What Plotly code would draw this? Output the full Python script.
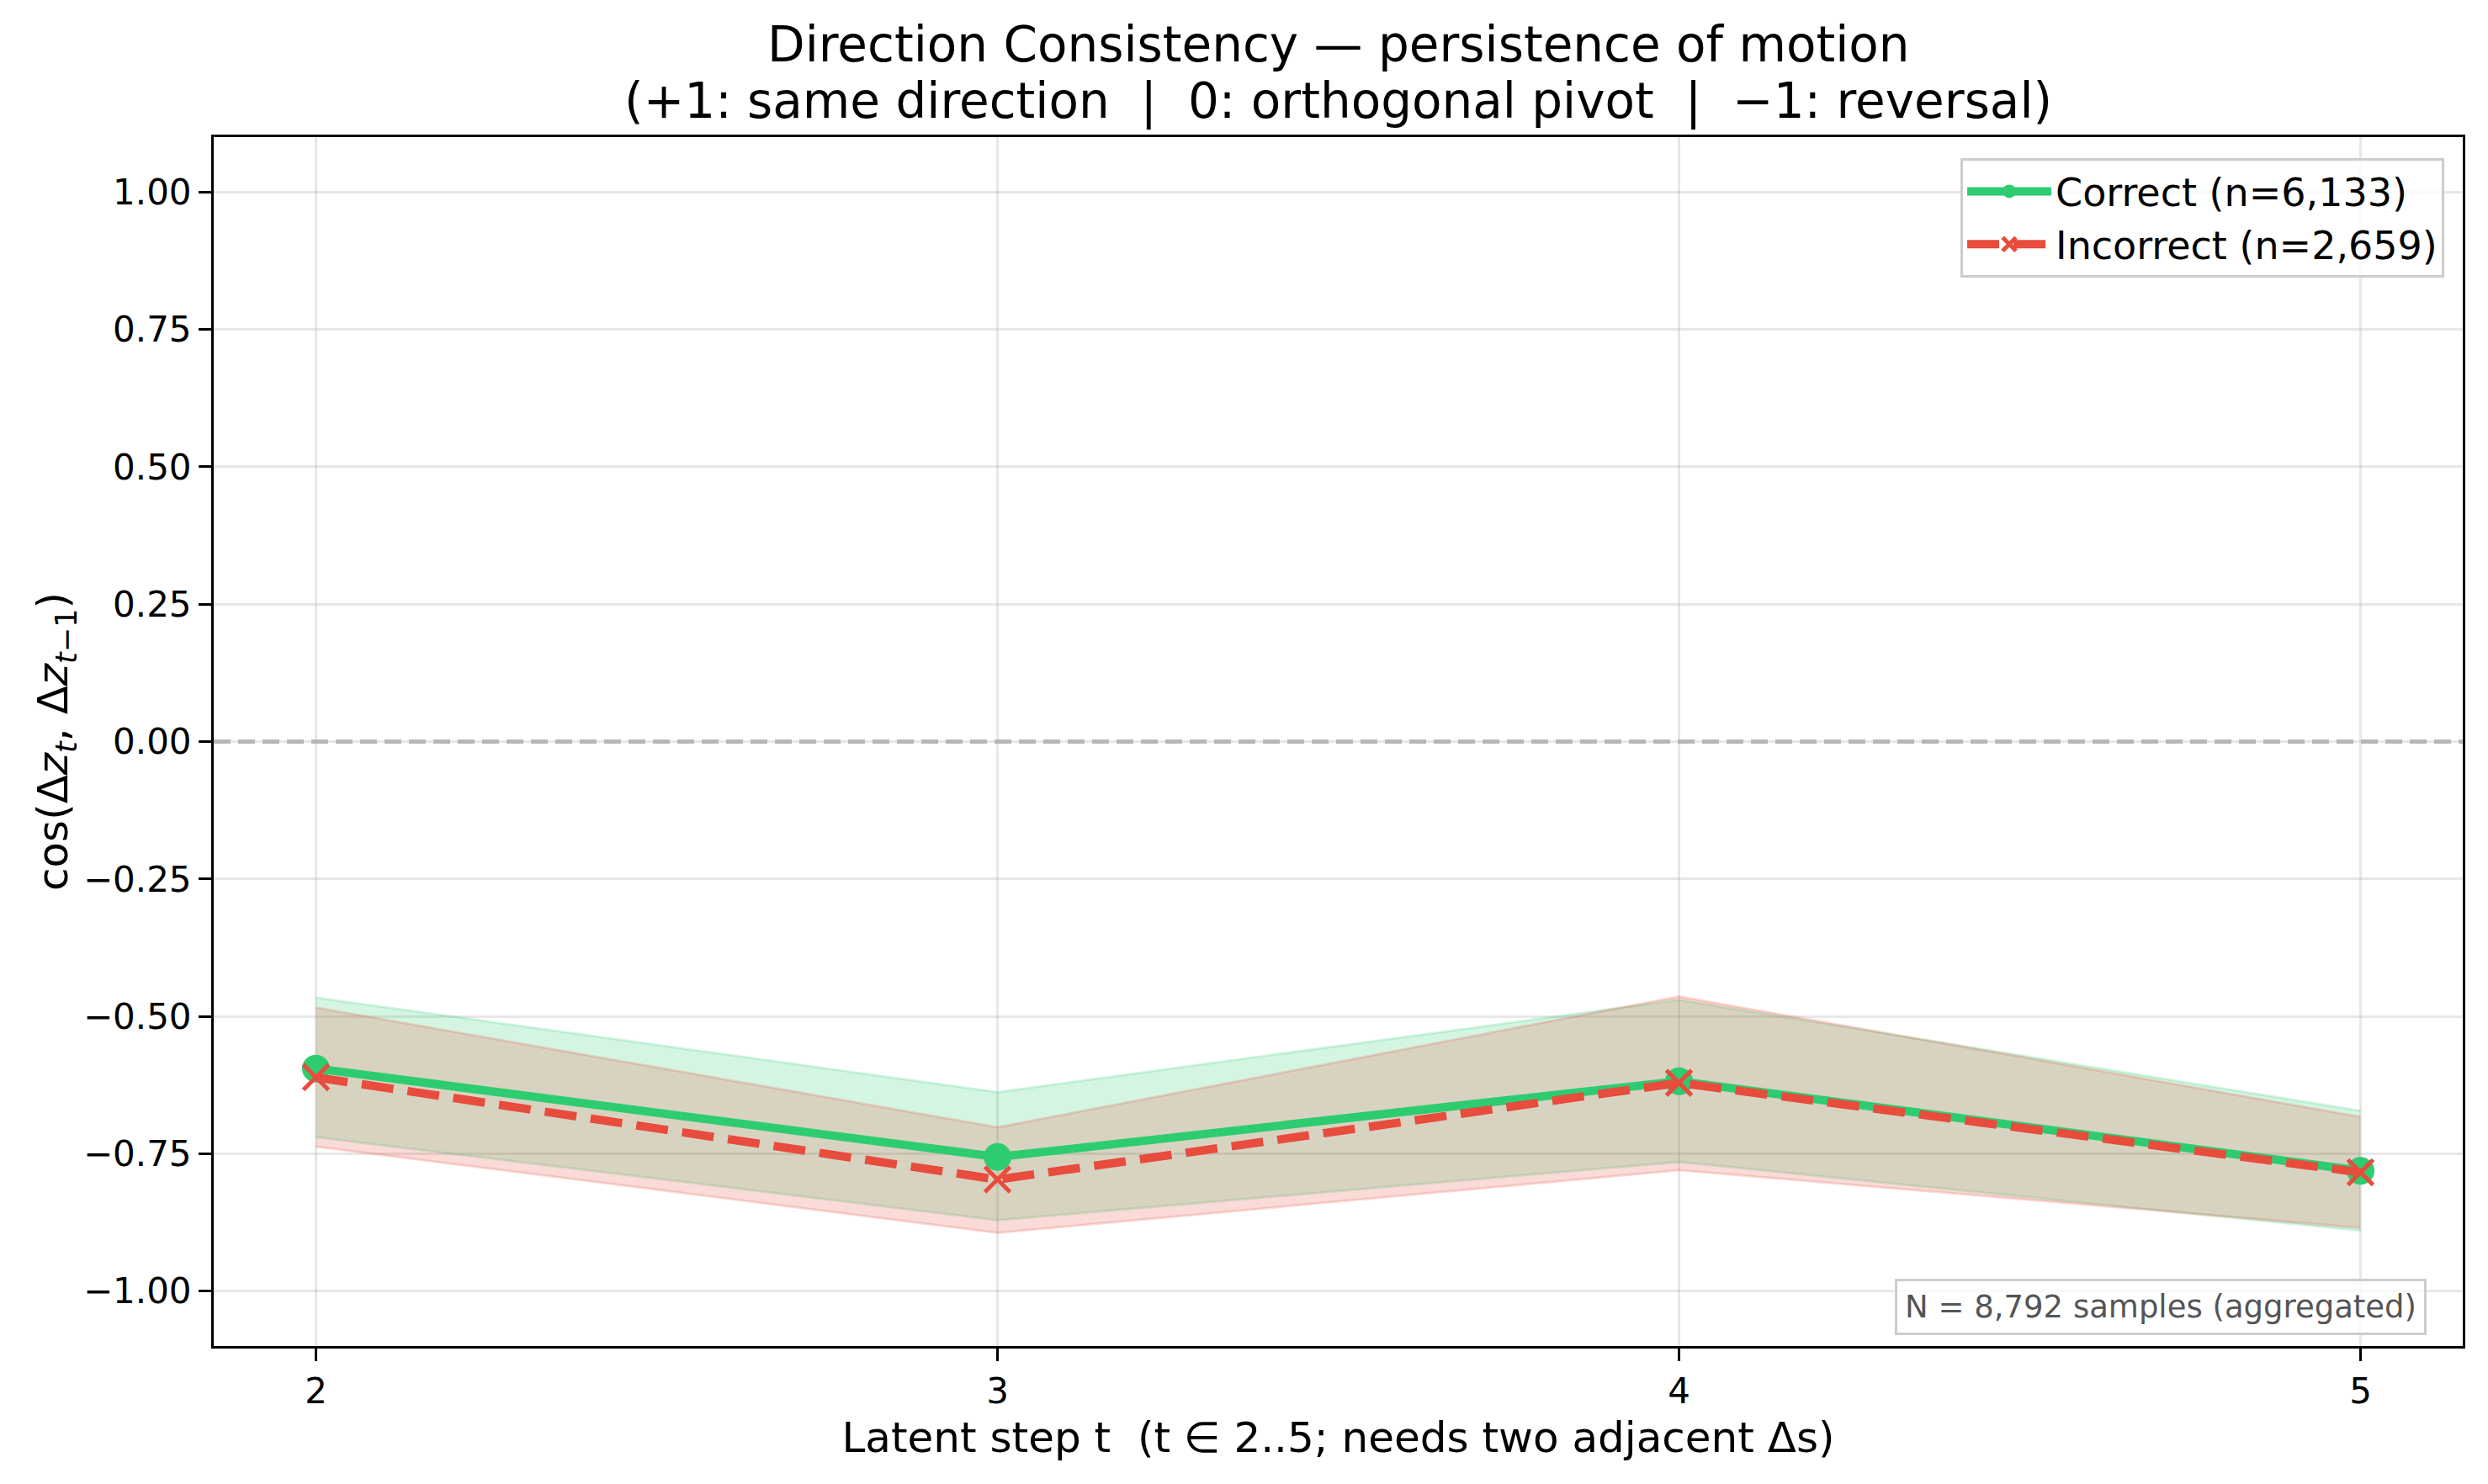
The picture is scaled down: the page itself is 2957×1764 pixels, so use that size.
import plotly.graph_objects as go

# ---- data ----
steps = [2, 3, 4, 5]
correct_mean = [-0.595, -0.756, -0.618, -0.781]
correct_lo = [-0.720, -0.871, -0.765, -0.890]
correct_hi = [-0.466, -0.638, -0.470, -0.672]
incorrect_mean = [-0.611, -0.797, -0.621, -0.784]
incorrect_lo = [-0.737, -0.894, -0.780, -0.885]
incorrect_hi = [-0.484, -0.702, -0.464, -0.683]
correct_name = "Correct (n=6,133)"
incorrect_name = "Incorrect (n=2,659)"
y_ticks = [-1.0, -0.75, -0.5, -0.25, 0.0, 0.25, 0.5, 0.75, 1.0]
x_ticks = [2, 3, 4, 5]

GREEN = "#2ecc71"
RED = "#e74c3c"
GREEN_A = "rgba(46,204,113,0.2)"
RED_A = "rgba(231,76,60,0.2)"
FONT = "DejaVu Sans"

W, H = 2957, 1764
L, R, T, B = 254, 30, 163, 164

fig = go.Figure()

# bands
fig.add_trace(go.Scatter(x=steps, y=correct_lo, mode="lines", line=dict(color=GREEN_A, width=3),
                         showlegend=False, hoverinfo="skip"))
fig.add_trace(go.Scatter(x=steps, y=correct_hi, mode="lines", line=dict(color=GREEN_A, width=3),
                         fill="tonexty", fillcolor=GREEN_A, showlegend=False, hoverinfo="skip"))
fig.add_trace(go.Scatter(x=steps, y=incorrect_lo, mode="lines", line=dict(color=RED_A, width=3),
                         showlegend=False, hoverinfo="skip"))
fig.add_trace(go.Scatter(x=steps, y=incorrect_hi, mode="lines", line=dict(color=RED_A, width=3),
                         fill="tonexty", fillcolor=RED_A, showlegend=False, hoverinfo="skip"))

# lines
fig.add_trace(go.Scatter(x=steps, y=correct_mean, mode="lines+markers", name=correct_name,
                         line=dict(color=GREEN, width=10),
                         marker=dict(symbol="circle", size=33, color=GREEN)))
fig.add_trace(go.Scatter(x=steps, y=incorrect_mean, mode="lines+markers", name=incorrect_name,
                         line=dict(color=RED, width=10, dash="38px,17px"),
                         marker=dict(symbol="x-thin", size=30, color=RED,
                                     line=dict(color=RED, width=5))))

# zero reference line
fig.add_shape(type="line", xref="paper", yref="y", x0=0, x1=1, y0=0, y1=0,
              line=dict(color="rgba(128,128,128,0.55)", width=5, dash="20px,9px"), layer="below")

# titles
fig.add_annotation(text="Direction Consistency \u2014 persistence of motion",
                   xref="paper", yref="paper", x=0.5, y=(H - B - 53) / (H - T - B),
                   xanchor="center", yanchor="middle", showarrow=False,
                   font=dict(family=FONT, size=58, color="black"))
fig.add_annotation(text="(+1: same direction \u00a0|\u00a0 0: orthogonal pivot \u00a0|\u00a0 \u22121: reversal)",
                   xref="paper", yref="paper", x=0.5, y=(H - B - 120) / (H - T - B),
                   xanchor="center", yanchor="middle", showarrow=False,
                   font=dict(family=FONT, size=58, color="black"))

# sample annotation
fig.add_annotation(text="N = 8,792 samples (aggregated)",
                   xref="paper", yref="paper", x=0.984, y=0.009,
                   xanchor="right", yanchor="bottom", showarrow=False,
                   font=dict(family=FONT, size=37, color="#555555"),
                   bgcolor="rgba(255,255,255,0.8)", bordercolor="#cccccc",
                   borderwidth=3, borderpad=9)

fig.update_layout(
    width=W, height=H,
    margin=dict(l=L, r=R, t=T, b=B),
    paper_bgcolor="white", plot_bgcolor="white",
    font=dict(family=FONT, size=42, color="black"),
    showlegend=True,
    legend=dict(x=0.9918, y=0.9826, xanchor="right", yanchor="top", traceorder="normal",
                bgcolor="rgba(255,255,255,0.8)", bordercolor="#cccccc", borderwidth=3,
                font=dict(family=FONT, size=46), itemwidth=100, tracegroupgap=0),
    xaxis=dict(range=[1.85, 5.15], tickvals=x_ticks, ticktext=[str(v) for v in x_ticks],
               showgrid=True, gridcolor="rgba(176,176,176,0.3)", gridwidth=3,
               zeroline=False, showline=True, linecolor="black", linewidth=3, mirror=True,
               ticks="outside", ticklen=15, tickwidth=3, tickcolor="black",
               tickfont=dict(family=FONT, size=42),
               title=dict(text="Latent step t \u00a0(t \u2208 2..5; needs two adjacent \u0394s)",
                          font=dict(family=FONT, size=50), standoff=14)),
    yaxis=dict(range=[-1.1, 1.1], tickvals=y_ticks, tickformat=".2f",
               showgrid=True, gridcolor="rgba(176,176,176,0.3)", gridwidth=3,
               zeroline=False, showline=True, linecolor="black", linewidth=3, mirror=True,
               ticks="outside", ticklen=15, tickwidth=3, tickcolor="black",
               tickfont=dict(family=FONT, size=42),
               title=dict(text="cos(\u0394<i>z</i><sub><i>t</i></sub>, \u0394<i>z</i><sub><i>t</i>\u22121</sub>)",
                          font=dict(family=FONT, size=50), standoff=2)),
)

fig.write_html("out.html")
